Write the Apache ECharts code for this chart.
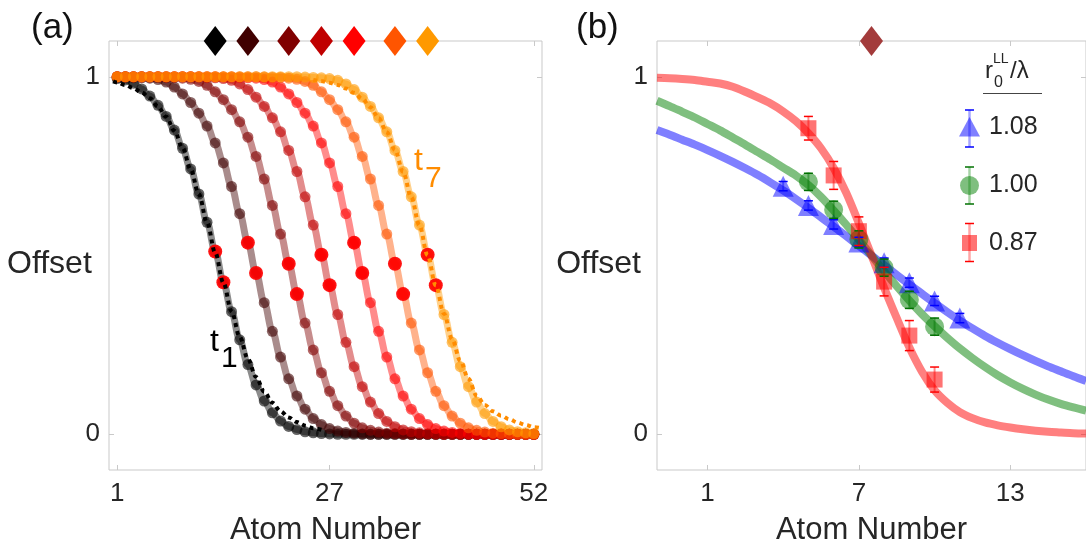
<!DOCTYPE html>
<html><head><meta charset="utf-8">
<script src="https://cdn.jsdelivr.net/npm/echarts@6/dist/echarts.min.js"></script>
<style>html,body{margin:0;padding:0;background:#fff}#c{width:1086px;height:551px}</style>
</head><body><div id="c"></div>
<script>
// ---------- Panel (a) data ----------
const atoms = [1,2,3,4,5,6,7,8,9,10,11,12,13,14,15,16,17,18,19,20,21,22,23,24,25,26,27,28,29,30,31,32,33,34,35,36,37,38,39,40,41,42,43,44,45,46,47,48,49,50,51,52];
const curveT1 = [0.995,0.991,0.982,0.966,0.946,0.920,0.889,0.851,0.800,0.742,0.672,0.593,0.511,0.425,0.343,0.264,0.195,0.138,0.093,0.060,0.037,0.022,0.013,0.007,0.004,0.002,0.001,0,0,0,0,0,0,0,0,0,0,0,0,0,0,0,0,0,0,0,0,0,0,0,0,0];
const curveT2 = [0.999,0.999,0.998,0.997,0.996,0.992,0.985,0.971,0.952,0.928,0.898,0.862,0.815,0.759,0.693,0.617,0.536,0.451,0.368,0.288,0.216,0.155,0.107,0.070,0.044,0.027,0.016,0.009,0.005,0.003,0.001,0,0,0,0,0,0,0,0,0,0,0,0,0,0,0,0,0,0,0,0,0];
const curveT3 = [1,1,1,1,0.999,0.999,0.998,0.998,0.996,0.993,0.987,0.976,0.958,0.936,0.908,0.874,0.831,0.777,0.714,0.640,0.560,0.477,0.392,0.311,0.236,0.172,0.120,0.080,0.051,0.031,0.018,0.011,0.006,0.003,0.002,0.001,0,0,0,0,0,0,0,0,0,0,0,0,0,0,0,0];
const curveT4 = [1,1,1,1,1,1,1,1,1,1,0.999,0.998,0.997,0.995,0.990,0.980,0.964,0.943,0.917,0.885,0.846,0.794,0.735,0.664,0.585,0.502,0.417,0.335,0.257,0.189,0.133,0.090,0.058,0.036,0.021,0.012,0.007,0.004,0.002,0.001,0,0,0,0,0,0,0,0,0,0,0,0];
const curveT5 = [1,1,1,1,1,1,1,1,1,1,1,1,1,0.999,0.999,0.998,0.997,0.996,0.992,0.985,0.971,0.952,0.928,0.898,0.862,0.815,0.759,0.693,0.617,0.536,0.451,0.368,0.288,0.216,0.155,0.107,0.070,0.044,0.027,0.016,0.009,0.005,0.003,0.001,0,0,0,0,0,0,0,0];
const curveT6 = [1,1,1,1,1,1,1,1,1,1,1,1,1,1,1,1,1,1,0.999,0.998,0.998,0.996,0.993,0.987,0.976,0.958,0.936,0.908,0.874,0.831,0.777,0.714,0.640,0.560,0.477,0.392,0.311,0.236,0.172,0.120,0.080,0.051,0.031,0.018,0.011,0.006,0.003,0.002,0.001,0,0,0];
const curveT7 = [1,1,1,1,1,1,1,1,1,1,1,1,1,1,1,1,1,1,1,1,1,1,1,0.999,0.998,0.997,0.995,0.990,0.980,0.964,0.943,0.917,0.885,0.846,0.794,0.735,0.664,0.585,0.502,0.417,0.335,0.257,0.189,0.133,0.090,0.058,0.036,0.021,0.012,0.007,0.004,0.002];
const curveColors = ['#000000','#400000','#800000','#c00000','#ff0000','#ff5500','#ff9900'];

const redAtoms = [13,14,17,18,22,23,26,27,30,31,35,36,39,40];
const redValues = [0.511,0.425,0.536,0.451,0.477,0.392,0.502,0.417,0.536,0.451,0.477,0.392,0.502,0.417];

const diamondAtoms = [13,17,22,26,30,35,39];

const fitT1X = [0.5,1,2,3,4,5,6,7,8,9,10,11,12,13,14,15,16,17,18,19,20,21,22,23,24,25,26];
const fitT1Y = [0.987,0.984,0.977,0.968,0.956,0.940,0.917,0.888,0.849,0.801,0.741,0.671,0.592,0.508,0.424,0.344,0.272,0.211,0.160,0.119,0.088,0.064,0.047,0.034,0.024,0.017,0.0125];
const fitT7X = [25,26,27,28,29,30,31,32,33,34,35,36,37,38,39,40,41,42,43,44,45,46,47,48,49,50,51,52,53];
const fitT7Y = [0.991,0.988,0.983,0.977,0.967,0.955,0.938,0.915,0.884,0.845,0.795,0.734,0.663,0.584,0.5,0.416,0.337,0.266,0.205,0.155,0.108,0.082,0.064,0.052,0.042,0.033,0.026,0.02,0.016];

const aTicksX = [1,27,52];
const yTicks = [0,1];

// ---------- Panel (b) data ----------
const fitBX = [-1,-0.5,0,0.5,1,1.5,2,2.5,3,3.5,4,4.5,5,5.5,6,6.5,7,7.5,8,8.5,9,9.5,10,10.5,11,11.5,12,12.5,13,13.5,14,14.5,15,15.5,16];
const fitBlue  = [0.851,0.838,0.824,0.810,0.795,0.779,0.762,0.744,0.725,0.704,0.682,0.658,0.633,0.607,0.581,0.554,0.527,0.500,0.473,0.446,0.419,0.393,0.367,0.342,0.318,0.296,0.275,0.256,0.238,0.221,0.205,0.190,0.176,0.162,0.149];
const fitGreen = [0.933,0.918,0.902,0.886,0.868,0.850,0.830,0.810,0.789,0.768,0.746,0.724,0.697,0.664,0.626,0.586,0.544,0.500,0.456,0.414,0.374,0.336,0.302,0.270,0.240,0.213,0.188,0.165,0.145,0.127,0.111,0.097,0.085,0.075,0.066];
const fitRed   = [0.997,0.996,0.994,0.991,0.986,0.981,0.972,0.958,0.942,0.925,0.903,0.876,0.842,0.800,0.745,0.675,0.590,0.500,0.410,0.325,0.243,0.175,0.123,0.088,0.062,0.045,0.033,0.025,0.019,0.014,0.010,0.007,0.005,0.003,0.002];

const blueAtoms = [4,5,6,7,8,9,10,11];
const blueValues = [0.694,0.640,0.587,0.538,0.480,0.424,0.373,0.325];
const blueErr = [0.013,0.013,0.013,0.013,0.013,0.013,0.013,0.013];
const greenAtoms = [5,6,7,8,9,10];
const greenValues = [0.706,0.628,0.545,0.466,0.376,0.301];
const greenErr = [0.024,0.024,0.024,0.024,0.024,0.024];
const redSqAtoms = [5,6,7,8,9,10];
const redSqValues = [0.856,0.724,0.568,0.427,0.276,0.153];
const redSqErr = [0.033,0.039,0.040,0.040,0.042,0.035];

const bDiamondAtom = [7.5];
const bTicksX = [1,7,13];
const legendLabels = ['1.08','1.00','0.87'];

// ---------- helpers ----------
const FONT = '"Liberation Sans", Helvetica, Arial, sans-serif';
const TXT = '#262626';
const AX = '#c9c9c9';
const zip = (xs, ys) => xs.map((x, i) => [x, ys[i]]);
const errData = (xs, ys, es) => xs.map((x, i) => [x, ys[i] - es[i], ys[i] + es[i]]);
const Y_MIN = -0.1, Y_MAX = 1.1;

function errRender(color) {
  return function (params, api) {
    const x = api.value(0), lo = api.value(1), hi = api.value(2);
    const a = api.coord([x, lo]), b = api.coord([x, hi]);
    const hw = 4.5;
    return { type: 'group', children: [
      { type: 'line', shape: { x1: a[0], y1: a[1], x2: b[0], y2: b[1] }, style: { stroke: color, lineWidth: 2, opacity: 0.45 } },
      { type: 'line', shape: { x1: a[0] - hw, y1: a[1], x2: a[0] + hw, y2: a[1] }, style: { stroke: color, lineWidth: 1.5 } },
      { type: 'line', shape: { x1: b[0] - hw, y1: b[1], x2: b[0] + hw, y2: b[1] }, style: { stroke: color, lineWidth: 1.5 } }
    ]};
  };
}

function xAx(grid, min, max, ticks, pos, withLabels) {
  const o = {
    gridIndex: grid, type: 'value', min: min, max: max, position: pos,
    axisLine: { show: false, onZero: false },
    axisTick: { show: true, inside: true, length: 5, lineStyle: { color: AX }, customValues: ticks },
    axisLabel: { show: withLabels, customValues: ticks, color: TXT, fontSize: 26, fontFamily: FONT, margin: 11 },
    splitLine: { show: false }
  };
  if (withLabels) {
    o.name = 'Atom Number'; o.nameLocation = 'middle'; o.nameGap = 45;
    o.nameTextStyle = { color: TXT, fontSize: 31, fontFamily: FONT };
  }
  return o;
}
function yAx(grid, pos, withLabels) {
  return {
    gridIndex: grid, type: 'value', min: Y_MIN, max: Y_MAX, position: pos,
    axisLine: { show: false, onZero: false },
    axisTick: { show: true, inside: true, length: 5, lineStyle: { color: AX }, customValues: yTicks },
    axisLabel: { show: withLabels, customValues: yTicks, color: TXT, fontSize: 26, fontFamily: FONT, margin: 9,
                 formatter: v => String(v) },
    splitLine: { show: false }
  };
}

const seriesA = [curveT1, curveT2, curveT3, curveT4, curveT5, curveT6, curveT7].map((c, k) => ({
  type: 'line', xAxisIndex: 0, yAxisIndex: 0, data: zip(atoms, c),
  smooth: 0.35, smoothMonotone: 'x', symbol: 'circle', symbolSize: 11, showSymbol: true,
  lineStyle: { color: curveColors[k], width: 7, opacity: 0.45 },
  itemStyle: { color: curveColors[k], opacity: 0.6 },
  emphasis: { disabled: true }, z: 2
}));

const option = {
  animation: false,
  backgroundColor: '#ffffff',
  textStyle: { fontFamily: FONT },
  grid: [
    { left: 109, top: 41, width: 433, height: 432, show: true, borderColor: AX, borderWidth: 1, backgroundColor: 'transparent' },
    { left: 657, top: 41, width: 433, height: 432, show: true, borderColor: AX, borderWidth: 1, backgroundColor: 'transparent' }
  ],
  xAxis: [
    xAx(0, 0, 53, aTicksX, 'bottom', true),
    xAx(0, 0, 53, aTicksX, 'top', false),
    xAx(1, -1, 16, bTicksX, 'bottom', true),
    xAx(1, -1, 16, bTicksX, 'top', false)
  ],
  yAxis: [
    yAx(0, 'left', true), yAx(0, 'right', false),
    yAx(1, 'left', true), yAx(1, 'right', false)
  ],
  series: [
    ...seriesA,
    { type: 'scatter', xAxisIndex: 0, yAxisIndex: 0, data: zip(redAtoms, redValues), symbol: 'circle', symbolSize: 14,
      itemStyle: { color: '#ff0000', opacity: 0.92 }, z: 3, emphasis: { disabled: true } },
    { type: 'line', xAxisIndex: 0, yAxisIndex: 0, data: zip(fitT1X, fitT1Y), smooth: 0.35, smoothMonotone: 'x', showSymbol: false, symbol: 'none',
      lineStyle: { color: '#000000', width: 4, type: [4, 4] }, z: 4 },
    { type: 'line', xAxisIndex: 0, yAxisIndex: 0, data: zip(fitT7X, fitT7Y), smooth: 0.35, smoothMonotone: 'x', showSymbol: false, symbol: 'none',
      lineStyle: { color: '#ff8c00', width: 4, type: [4, 4] }, z: 4 },
    { type: 'scatter', xAxisIndex: 0, yAxisIndex: 0, clip: false, symbol: 'diamond', symbolSize: [23, 30],
      data: diamondAtoms.map((x, i) => ({ value: [x, Y_MAX], itemStyle: { color: curveColors[i], opacity: 1 } })), z: 5 },

    // panel (b)
    { type: 'line', xAxisIndex: 2, yAxisIndex: 2, data: zip(fitBX, fitBlue), smooth: 0.3, showSymbol: false, symbol: 'none',
      lineStyle: { color: '#0000ff', width: 8, opacity: 0.5 }, z: 2 },
    { type: 'line', xAxisIndex: 2, yAxisIndex: 2, data: zip(fitBX, fitGreen), smooth: 0.3, showSymbol: false, symbol: 'none',
      lineStyle: { color: '#008000', width: 8, opacity: 0.5 }, z: 2 },
    { type: 'line', xAxisIndex: 2, yAxisIndex: 2, data: zip(fitBX, fitRed), smooth: 0.3, showSymbol: false, symbol: 'none',
      lineStyle: { color: '#ff0000', width: 8, opacity: 0.5 }, z: 2 },
    { type: 'scatter', xAxisIndex: 2, yAxisIndex: 2, data: zip(blueAtoms, blueValues), symbol: 'triangle', symbolSize: 21,
      itemStyle: { color: '#0000ff', opacity: 0.5 }, z: 3 },
    { type: 'scatter', xAxisIndex: 2, yAxisIndex: 2, data: zip(greenAtoms, greenValues), symbol: 'circle', symbolSize: 19,
      itemStyle: { color: '#008000', opacity: 0.5 }, z: 3 },
    { type: 'scatter', xAxisIndex: 2, yAxisIndex: 2, data: zip(redSqAtoms, redSqValues), symbol: 'rect', symbolSize: 16,
      itemStyle: { color: '#ff0000', opacity: 0.55 }, z: 3 },
    { type: 'custom', xAxisIndex: 2, yAxisIndex: 2, data: errData(blueAtoms, blueValues, blueErr), renderItem: errRender('#0000ff'), encode: { x: 0, y: [1, 2] }, z: 4 },
    { type: 'custom', xAxisIndex: 2, yAxisIndex: 2, data: errData(greenAtoms, greenValues, greenErr), renderItem: errRender('#007000'), encode: { x: 0, y: [1, 2] }, z: 4 },
    { type: 'custom', xAxisIndex: 2, yAxisIndex: 2, data: errData(redSqAtoms, redSqValues, redSqErr), renderItem: errRender('#ff0000'), encode: { x: 0, y: [1, 2] }, z: 4 },
    { type: 'scatter', xAxisIndex: 2, yAxisIndex: 2, clip: false, symbol: 'diamond', symbolSize: [23, 30],
      data: bDiamondAtom.map(x => [x, Y_MAX]), itemStyle: { color: '#a33b3b', opacity: 1 }, z: 5 }
  ],
  graphic: [
    { type: 'text', x: 31, y: 28, style: { text: '(a)', font: '35px ' + FONT, fill: '#111', align: 'left', verticalAlign: 'middle' } },
    { type: 'text', x: 576, y: 28, style: { text: '(b)', font: '35px ' + FONT, fill: '#111', align: 'left', verticalAlign: 'middle' } },
    { type: 'text', x: 7, y: 264, style: { text: 'Offset', font: '32px ' + FONT, fill: TXT, align: 'left', verticalAlign: 'middle' } },
    { type: 'text', x: 641, y: 264, style: { text: 'Offset', font: '32px ' + FONT, fill: TXT, align: 'right', verticalAlign: 'middle' } },
    // t1 / t7 annotations
    { type: 'text', x: 210, y: 342, style: { text: 't', font: '32px ' + FONT, fill: '#000', align: 'left', verticalAlign: 'middle' } },
    { type: 'text', x: 221, y: 359, style: { text: '1', font: '30px ' + FONT, fill: '#000', align: 'left', verticalAlign: 'middle' } },
    { type: 'text', x: 414, y: 161, style: { text: 't', font: '32px ' + FONT, fill: '#ff8c00', align: 'left', verticalAlign: 'middle' } },
    { type: 'text', x: 425, y: 179, style: { text: '7', font: '30px ' + FONT, fill: '#ff8c00', align: 'left', verticalAlign: 'middle' } },
    // legend title r_0^LL / lambda
    { type: 'text', x: 985, y: 71, style: { text: 'r', font: '24px ' + FONT, fill: TXT, align: 'left', verticalAlign: 'middle' } },
    { type: 'text', x: 993, y: 59, style: { text: 'LL', font: '14px ' + FONT, fill: TXT, align: 'left', verticalAlign: 'middle' } },
    { type: 'text', x: 994, y: 83, style: { text: '0', font: '16px ' + FONT, fill: TXT, align: 'left', verticalAlign: 'middle' } },
    { type: 'text', x: 1010, y: 71, style: { text: '/λ', font: '24px ' + FONT, fill: TXT, align: 'left', verticalAlign: 'middle' } },
    { type: 'line', shape: { x1: 983, y1: 93.5, x2: 1042, y2: 93.5 }, style: { stroke: '#444', lineWidth: 1 } },
    // legend entries
    { type: 'line', shape: { x1: 969.5, y1: 110, x2: 969.5, y2: 147 }, style: { stroke: '#0000ff', lineWidth: 2.5, opacity: 0.35 } },
    { type: 'line', shape: { x1: 965, y1: 110, x2: 974, y2: 110 }, style: { stroke: '#0000ff', lineWidth: 1.5 } },
    { type: 'line', shape: { x1: 965, y1: 147, x2: 974, y2: 147 }, style: { stroke: '#0000ff', lineWidth: 1.5 } },
    { type: 'polygon', shape: { points: [[969.5, 117], [980, 136.5], [959, 136.5]] }, style: { fill: '#0000ff', opacity: 0.5 } },
    { type: 'text', x: 989, y: 127, style: { text: legendLabels[0], font: '25px ' + FONT, fill: TXT, align: 'left', verticalAlign: 'middle' } },

    { type: 'line', shape: { x1: 969.5, y1: 167, x2: 969.5, y2: 204 }, style: { stroke: '#008000', lineWidth: 2.5, opacity: 0.35 } },
    { type: 'line', shape: { x1: 965, y1: 167, x2: 974, y2: 167 }, style: { stroke: '#007000', lineWidth: 1.5 } },
    { type: 'line', shape: { x1: 965, y1: 204, x2: 974, y2: 204 }, style: { stroke: '#007000', lineWidth: 1.5 } },
    { type: 'circle', shape: { cx: 969.5, cy: 185.5, r: 9.5 }, style: { fill: '#008000', opacity: 0.5 } },
    { type: 'text', x: 989, y: 185, style: { text: legendLabels[1], font: '25px ' + FONT, fill: TXT, align: 'left', verticalAlign: 'middle' } },

    { type: 'line', shape: { x1: 969.5, y1: 223.5, x2: 969.5, y2: 261.5 }, style: { stroke: '#ff0000', lineWidth: 2.5, opacity: 0.35 } },
    { type: 'line', shape: { x1: 965, y1: 223.5, x2: 974, y2: 223.5 }, style: { stroke: '#ff0000', lineWidth: 1.5 } },
    { type: 'line', shape: { x1: 965, y1: 261.5, x2: 974, y2: 261.5 }, style: { stroke: '#ff0000', lineWidth: 1.5 } },
    { type: 'rect', shape: { x: 962, y: 235, width: 15, height: 16 }, style: { fill: '#ff0000', opacity: 0.55 } },
    { type: 'text', x: 989, y: 243, style: { text: legendLabels[2], font: '25px ' + FONT, fill: TXT, align: 'left', verticalAlign: 'middle' } }
  ]
};

const chart = echarts.init(document.getElementById('c'), null, { renderer: 'canvas', width: 1086, height: 551 });
chart.setOption(option);
</script>
</body></html>
